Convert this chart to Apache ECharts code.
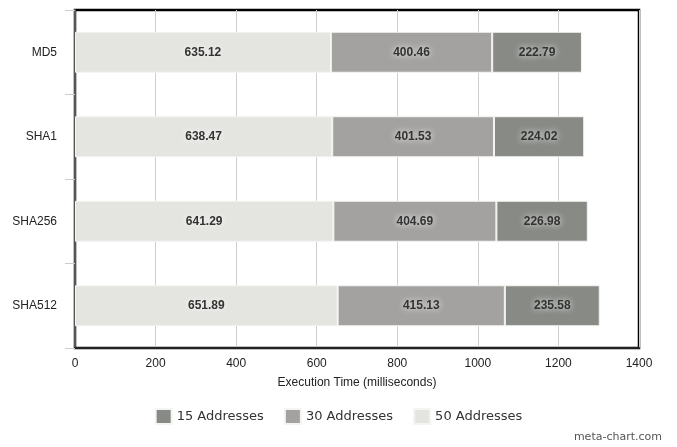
<!DOCTYPE html>
<html>
<head>
<meta charset="utf-8">
<script src="https://cdn.jsdelivr.net/npm/echarts@6/dist/echarts.min.js"></script>
<style>
  html, body { margin: 0; padding: 0; background: #fff; }
  #chart { width: 677px; height: 447px; }
</style>
</head>
<body>
<div id="chart"></div>
<script>
// Hash algorithms, top to bottom
const categories = ['MD5', 'SHA1', 'SHA256', 'SHA512'];
// Execution time (ms) per number of addresses
const addr50 = [635.12, 638.47, 641.29, 651.89];
const addr30 = [400.46, 401.53, 404.69, 415.13];
const addr15 = [222.79, 224.02, 226.98, 235.58];
const seriesNames = ['15 Addresses', '30 Addresses', '50 Addresses'];
const xTicks = { min: 0, max: 1400, interval: 200 };

const colors = { '15 Addresses': '#878a85', '30 Addresses': '#a3a2a0', '50 Addresses': '#e4e4e0' };

const labelStyle = {
  show: true,
  position: 'inside',
  color: '#333',
  fontFamily: 'Liberation Sans, Arial, sans-serif',
  fontWeight: 'bold',
  fontSize: 12,
  textShadowColor: 'rgba(255,255,255,0.95)',
  textShadowBlur: 6,
  formatter: p => p.value.toFixed(2)
};

function makeSeries(name, data) {
  return {
    name: name,
    type: 'bar',
    stack: 'total',
    data: data,
    barWidth: 41,
    itemStyle: { color: colors[name], borderColor: '#f4f4f2', borderWidth: 1 },
    label: labelStyle,
    emphasis: { disabled: true }
  };
}

const chart = echarts.init(document.getElementById('chart'), null, { renderer: 'canvas' });
chart.setOption({
  animation: false,
  backgroundColor: '#fff',
  grid: {
    left: 75, right: 38, top: 10, bottom: 99,
    show: true, borderColor: '#000', borderWidth: 2.5, backgroundColor: 'transparent'
  },
  legend: {
    data: seriesNames,
    bottom: 17,
    left: 'center',
    itemWidth: 16,
    itemHeight: 15,
    itemGap: 20,
    icon: 'rect',
    textStyle: { fontFamily: 'DejaVu Sans, sans-serif', fontSize: 13, color: '#333' }
  },
  xAxis: {
    type: 'value',
    min: xTicks.min, max: xTicks.max, interval: xTicks.interval,
    name: 'Execution Time (milliseconds)',
    nameLocation: 'middle',
    nameGap: 29,
    nameTextStyle: { fontFamily: 'Liberation Sans Narrow, Arial Narrow, Liberation Sans, sans-serif', fontSize: 12, color: '#222' },
    axisLine: { show: true, lineStyle: { color: '#222', width: 2 } },
    axisTick: { show: false },
    axisLabel: {
      fontFamily: 'Liberation Sans Narrow, Arial Narrow, Liberation Sans, sans-serif',
      fontSize: 12, color: '#222', margin: 10,
      formatter: v => String(v)
    },
    splitLine: { show: true, lineStyle: { color: '#cfcfcf', width: 1 } }
  },
  yAxis: {
    type: 'category',
    data: categories,
    inverse: true,
    axisLine: { show: true, lineStyle: { color: '#555', width: 2 } },
    axisTick: { show: true, length: 10, lineStyle: { color: '#ccc', width: 1 } },
    axisLabel: { fontFamily: 'Liberation Sans, Arial, sans-serif', fontSize: 12, color: '#222', margin: 18 },
    splitLine: { show: false }
  },
  series: [
    makeSeries('50 Addresses', addr50),
    makeSeries('30 Addresses', addr30),
    makeSeries('15 Addresses', addr15)
  ],
  graphic: [{
    type: 'text',
    right: 15,
    bottom: 4,
    style: { text: 'meta-chart.com', fontFamily: 'DejaVu Sans, sans-serif', fontSize: 11, fill: '#555' }
  }]
});
</script>
</body>
</html>
